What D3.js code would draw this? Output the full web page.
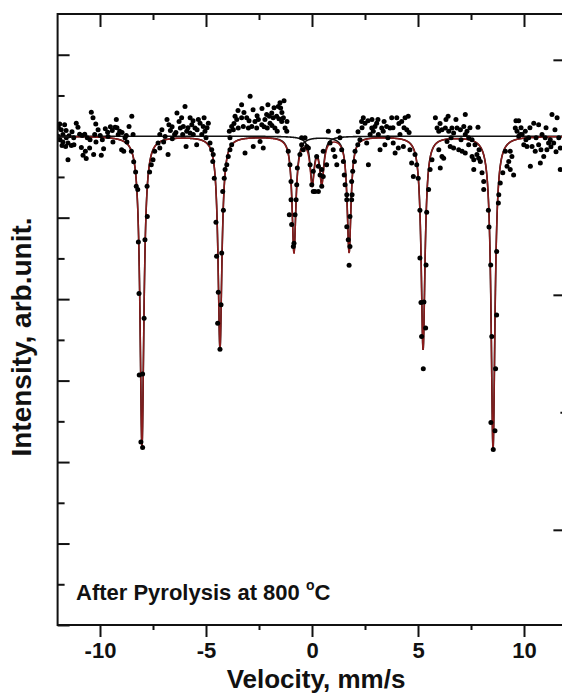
<!DOCTYPE html>
<html lang="en">
<head>
<meta charset="utf-8">
<script src="https://cdnjs.cloudflare.com/ajax/libs/d3/7.8.5/d3.min.js"></script>
<style>
	body { margin: 0; background: #fff; }
	svg text { font-family: Arial, "Liberation Sans", sans-serif; font-weight: bold; fill: #111; }
</style>
</head>
<body>
<svg id="chart" width="562" height="696"></svg>
<script>
// measured points: [velocity mm/s, transmission %]
var points = [
	[-11.90,100.30],[-11.98,100.00],[-11.67,100.28],[-11.83,100.16],[-11.75,100.04],[-11.59,99.96],[-11.75,99.86],[-11.51,99.83],
	[-11.62,99.75],[-11.35,99.77],[-11.51,99.42],[-11.24,99.96],[-11.12,100.32],[-11.04,100.22],[-10.96,100.05],[-10.84,100.02],
	[-10.72,100.05],[-10.60,99.96],[-10.88,99.72],[-10.69,99.63],[-10.80,99.53],[-10.65,99.45],[-10.49,99.71],[-10.41,100.59],
	[-10.33,100.45],[-10.20,100.30],[-10.25,100.04],[-10.09,100.16],[-9.99,100.02],[-9.89,99.91],[-10.30,99.55],[-9.94,99.53],
	[-9.83,99.69],[-9.75,100.18],[-9.64,100.10],[-9.51,100.23],[-9.42,100.14],[-9.29,100.22],[-9.23,100.41],[-9.14,100.04],
	[-9.07,100.12],[-8.98,99.67],[-8.88,99.63],[-8.82,99.96],[-8.63,100.24],[-8.50,100.49],[-8.44,100.04],[-8.76,100.02],
	[-8.52,99.63],[-8.41,99.37],[-8.32,99.12],[-8.29,98.77],[-8.22,98.69],[-8.19,97.40],[-8.16,96.14],[-8.15,94.14],
	[-8.07,92.49],[-7.99,92.36],[-7.99,94.16],[-7.92,95.53],[-7.88,97.46],[-7.77,98.03],[-7.78,98.77],[-7.66,99.12],
	[-7.58,99.30],[-7.50,99.42],[-7.42,99.63],[-7.26,99.83],[-7.18,100.04],[-7.18,99.71],[-7.00,99.86],[-6.84,100.41],
	[-6.75,100.28],[-6.68,100.14],[-6.59,99.94],[-6.79,99.55],[-6.48,100.04],[-6.37,100.57],[-6.27,100.36],[-6.21,100.20],
	[-6.15,100.45],[-5.99,100.73],[-6.07,100.24],[-5.91,100.12],[-6.10,100.04],[-5.94,99.75],[-5.75,100.45],[-5.67,100.28],
	[-5.52,100.20],[-5.36,100.41],[-5.28,100.32],[-5.13,100.24],[-5.05,100.12],[-4.89,100.32],[-5.20,100.04],[-5.44,99.79],
	[-5.60,100.04],[-5.75,100.08],[-5.00,99.96],[-4.81,99.83],[-4.73,99.67],[-4.66,99.55],[-4.68,99.38],[-4.61,98.97],
	[-4.53,97.89],[-4.50,97.05],[-4.42,96.17],[-4.45,95.41],[-4.34,94.77],[-4.29,95.86],[-4.26,97.13],[-4.18,98.18],
	[-4.21,98.64],[-4.14,98.97],[-4.10,99.18],[-4.02,99.30],[-3.95,99.50],[-3.87,99.67],[-3.79,99.79],[-3.87,99.96],
	[-3.90,100.12],[-3.79,100.24],[-3.71,100.16],[-3.63,100.49],[-3.55,100.41],[-3.48,100.20],[-3.32,100.77],[-3.32,100.45],
	[-3.24,100.24],[-3.16,99.59],[-3.08,100.45],[-3.00,100.20],[-2.92,100.98],[-2.84,100.24],[-2.77,99.75],[-2.69,100.36],
	[-2.61,100.20],[-2.53,100.41],[-2.45,99.87],[-2.37,100.28],[-2.30,99.71],[-2.22,100.41],[-2.14,100.53],[-2.11,100.20],
	[-2.01,100.49],[-1.98,100.32],[-1.90,100.57],[-1.83,100.45],[-1.75,100.20],[-1.67,100.49],[-1.64,100.12],[-1.59,100.73],
	[-1.51,100.82],[-1.48,100.69],[-1.43,100.36],[-1.35,100.45],[-1.27,100.20],[-1.19,100.12],[-1.12,99.63],[-1.04,99.30],
	[-0.99,98.89],[-0.99,98.44],[-1.07,98.07],[-0.96,97.83],[-0.88,97.29],[-0.85,97.37],[-0.80,98.07],[-0.75,98.44],
	[-0.72,98.81],[-0.69,99.22],[-0.57,99.55],[-0.49,99.79],[-0.33,99.96],[-0.25,99.75],[-0.41,99.67],[-0.49,99.96],
	[-0.17,99.71],[-0.09,99.30],[0.06,99.14],[-0.01,98.81],[0.06,98.64],[0.30,98.64],[0.30,99.26],[0.38,99.05],
	[0.22,99.50],[0.46,99.18],[0.53,99.63],[0.77,100.12],[0.85,99.83],[1.00,99.67],[1.08,99.50],[1.17,99.30],
	[1.24,100.12],[1.32,99.96],[1.40,99.67],[0.14,98.64],[0.46,98.77],[0.53,99.01],[0.69,99.30],[1.48,99.38],
	[1.52,99.05],[1.56,98.81],[1.64,98.56],[1.64,98.44],[1.64,97.78],[1.71,97.46],[1.79,97.29],[1.75,96.83],
	[1.79,98.03],[1.87,98.44],[1.89,98.56],[1.87,98.89],[1.92,99.14],[2.00,99.38],[2.03,99.63],[2.16,99.79],
	[2.26,99.91],[2.34,100.36],[2.42,100.45],[2.50,100.32],[2.58,99.83],[2.66,99.30],[2.74,100.04],[2.82,100.20],
	[2.89,100.12],[2.97,100.24],[3.05,100.32],[3.13,100.04],[3.21,99.67],[3.29,100.20],[3.36,100.12],[3.44,99.79],
	[3.52,100.24],[3.68,100.20],[3.76,100.45],[3.83,99.83],[3.92,99.59],[4.00,100.45],[4.07,99.71],[4.15,100.04],
	[4.23,100.36],[4.31,99.75],[4.39,100.45],[4.47,100.16],[4.54,100.49],[4.62,99.67],[4.70,99.34],[4.78,99.01],
	[4.86,99.55],[4.94,99.30],[5.01,98.97],[5.09,98.18],[5.09,97.01],[5.14,95.92],[5.17,95.08],[5.25,94.29],
	[5.36,95.29],[5.28,95.93],[5.38,96.84],[5.41,98.13],[5.50,98.69],[5.57,99.18],[5.66,99.42],[5.98,99.67],
	[6.05,99.22],[6.13,99.50],[5.82,100.45],[5.90,100.20],[5.98,100.12],[6.13,100.16],[6.21,99.46],[6.29,100.20],
	[6.42,100.49],[6.37,99.87],[6.45,100.12],[6.52,99.75],[6.60,100.20],[6.68,100.08],[6.68,99.71],[6.84,100.20],
	[6.92,99.67],[7.00,100.16],[7.08,99.63],[7.16,100.24],[7.23,100.53],[7.23,100.04],[7.23,99.59],[7.31,100.12],
	[7.39,99.96],[7.39,99.79],[7.55,99.91],[7.55,99.50],[7.63,99.42],[7.63,99.18],[7.78,99.55],[7.83,100.22],
	[7.86,99.46],[7.94,99.38],[8.02,99.10],[8.10,98.89],[8.10,98.69],[8.32,98.18],[8.35,97.77],[8.43,96.84],
	[8.48,95.08],[8.44,92.97],[8.55,92.31],[8.63,92.77],[8.66,94.29],[8.71,95.61],[8.71,97.17],[8.79,98.36],
	[8.81,98.56],[8.88,98.85],[9.00,99.10],[9.12,99.63],[9.20,99.26],[9.28,99.38],[9.35,99.18],[9.35,99.63],
	[9.43,99.50],[9.51,99.05],[9.59,100.20],[9.67,100.12],[9.75,100.38],[9.75,100.00],[9.83,100.04],[9.91,100.04],
	[9.99,99.79],[10.06,100.12],[10.14,99.75],[10.22,99.96],[10.30,99.26],[10.38,99.75],[10.46,100.32],[10.53,99.63],
	[10.69,100.28],[10.69,99.79],[10.77,99.34],[10.85,100.04],[10.93,99.50],[11.00,99.96],[11.08,99.67],[11.16,99.83],
	[11.24,99.91],[11.32,100.53],[11.40,99.83],[11.56,100.45],[11.64,99.96],[11.71,99.71],[11.71,99.18],
	[-11.96,100.21],[-11.89,99.91],[-11.79,99.77],[-11.60,100.14],[-11.46,100.01],[-11.32,100.11],[-11.23,99.79],
	[-10.47,99.91],[-10.19,99.86],[-9.62,99.99],[-9.39,99.86],[-9.20,100.21],[-8.96,100.09],[-8.73,99.86],
	[-7.08,100.16],[-6.93,99.99],[-6.60,100.23],[-6.42,100.09],
	[-5.85,100.21],[-5.61,100.38],[-5.42,100.16],[-5.09,100.45],[-4.95,100.21],
	[-3.68,100.31],[-3.49,100.63],[-3.21,100.58],[-2.97,100.38],[-2.78,100.65],[-2.59,100.50],[-2.36,100.68],[-2.26,100.23],
	[-2.08,100.77],[-1.89,100.26],[-1.79,100.70],[-1.56,100.43],[-1.42,100.58],[-1.32,100.87],[-1.18,100.36],
	[2.17,100.11],[2.36,100.21],[2.64,100.38],[2.83,100.41],[3.11,100.41],[3.40,100.36],[3.58,99.96],[3.82,100.21],
	[4.10,100.31],[4.34,100.21],[4.58,100.09],
	[6.04,100.31],[6.32,100.41],[6.56,99.96],[6.79,100.41],[7.03,99.91],[7.45,100.21],[7.69,99.79],[7.88,99.67],
	[9.62,100.38],[9.86,100.21],[10.09,99.91],[10.28,100.21],[10.57,99.96],[10.80,99.67],[11.04,100.21],[11.27,99.74],
	[11.46,100.16],[11.51,99.62]
];

// fit: sextet + doublet (Lorentzian lines, depth in %)
var sextetPos = [-8.02, -4.34, -0.85, 1.75, 5.24, 8.54];
var sextetDepth = [7.62, 5.21, 2.84, 2.84, 5.23, 7.67];
var sextetWidth = 0.11;
var doubletPos = [0.01, 0.46];
var doubletDepth = [1.10, 1.10];
var doubletWidth = 0.12;
var baseline = 100;

var xMajor = [-10, -5, 0, 5, 10];
var xMinor = [-7.5, -2.5, 2.5, 7.5];
var yMajor = [88, 90, 92, 94, 96, 98, 100, 102];
var yMinor = [89, 91, 93, 95, 97, 99, 101];
var rightMajor = [2, 4, 6];
var rightMinor = [3];

var svg = d3.select("#chart");
var padL = 57.6, padR = 566.4, padT = 14, padB = 625;

var x = d3.scaleLinear().domain([-12, 12]).range([padL, padR]);
var y = d3.scaleLinear().domain([88, 103]).range([padB, padT]);
var yRight = d3.scaleLinear().domain([1.19, 6.39]).range([padB, padT]);

svg.append("clipPath").attr("id", "clip")
	.append("rect").attr("x", padL).attr("y", padT).attr("width", padR - padL).attr("height", padB - padT);

function lor(v, pos, depth, w) {
	var s = 0;
	for (var i = 0; i < pos.length; i++) {
		var t = (v - pos[i]) / w;
		s += depth[i] / (1 + t * t);
	}
	return s;
}

var grid = d3.range(-12, 12.0001, 0.01);
var sextetLine = grid.map(function (v) { return [v, baseline - lor(v, sextetPos, sextetDepth, sextetWidth)]; });
var doubletLine = grid.map(function (v) { return [v, baseline - lor(v, doubletPos, doubletDepth, doubletWidth)]; });
var totalLine = grid.map(function (v) {
	return [v, baseline - lor(v, sextetPos, sextetDepth, sextetWidth) - lor(v, doubletPos, doubletDepth, doubletWidth)];
});

var line = d3.line().x(function (d) { return x(d[0]); }).y(function (d) { return y(d[1]); });

var plot = svg.append("g").attr("clip-path", "url(#clip)");

plot.append("path").datum(sextetLine).attr("d", line)
	.attr("fill", "none").attr("stroke", "#111").attr("stroke-width", 1.6);
plot.append("path").datum(doubletLine).attr("d", line)
	.attr("fill", "none").attr("stroke", "#111").attr("stroke-width", 1.6);
plot.append("path").datum(totalLine).attr("d", line)
	.attr("fill", "none").attr("stroke", "#8b1c1c").attr("stroke-width", 1.5);

plot.selectAll("circle")
	.data(points)
	.enter()
	.append("circle")
	.attr("cx", function (d) { return x(d[0]); })
	.attr("cy", function (d) { return y(d[1]); })
	.attr("r", 2.5)
	.attr("fill", "#000");

// axes
function styleAxis(g) {
	g.select(".domain").remove();
	g.selectAll("line").attr("stroke", "#111").attr("stroke-width", 2);
}

svg.append("g").attr("transform", "translate(0," + padB + ")")
	.call(d3.axisBottom(x).tickValues(xMajor).tickSize(12).tickPadding(5).tickFormat(function (d) { return String(d); }))
	.call(styleAxis)
	.selectAll("text").attr("font-size", 22).attr("font-family", null).attr("fill", "#111");
svg.append("g").attr("transform", "translate(0," + padB + ")")
	.call(d3.axisBottom(x).tickValues(xMinor).tickSize(5).tickFormat(""))
	.call(styleAxis);

svg.append("g").attr("transform", "translate(0," + padT + ")")
	.call(d3.axisTop(x).tickValues(xMajor).tickSize(-13).tickFormat(""))
	.call(styleAxis);
svg.append("g").attr("transform", "translate(0," + padT + ")")
	.call(d3.axisTop(x).tickValues(xMinor).tickSize(-6).tickFormat(""))
	.call(styleAxis);

svg.append("g").attr("transform", "translate(" + padL + ",0)")
	.call(d3.axisLeft(y).tickValues(yMajor).tickSize(-12).tickFormat(""))
	.call(styleAxis);
svg.append("g").attr("transform", "translate(" + padL + ",0)")
	.call(d3.axisLeft(y).tickValues(yMinor).tickSize(-7).tickFormat(""))
	.call(styleAxis);

svg.append("g").attr("transform", "translate(" + padR + ",0)")
	.call(d3.axisRight(yRight).tickValues(rightMajor).tickSize(-13).tickFormat(""))
	.call(styleAxis);
svg.append("g").attr("transform", "translate(" + padR + ",0)")
	.call(d3.axisRight(yRight).tickValues(rightMinor).tickSize(-6).tickFormat(""))
	.call(styleAxis);

// frame
svg.append("rect")
	.attr("x", padL).attr("y", padT)
	.attr("width", padR - padL).attr("height", padB - padT)
	.attr("fill", "none").attr("stroke", "#111").attr("stroke-width", 2);

// labels
svg.append("text")
	.attr("x", 316).attr("y", 688)
	.attr("text-anchor", "middle")
	.attr("font-size", 26)
	.text("Velocity, mm/s");

svg.append("text")
	.attr("transform", "translate(31,337) rotate(-90)")
	.attr("text-anchor", "middle")
	.attr("font-size", 28)
	.text("Intensity, arb.unit.");

var note = svg.append("text")
	.attr("x", 76).attr("y", 600)
	.attr("font-size", 22);
note.append("tspan").text("After Pyrolysis at 800 ");
note.append("tspan").attr("font-size", 14).attr("dy", -10).text("o");
note.append("tspan").attr("dy", 10).text("C");
</script>
</body>
</html>
